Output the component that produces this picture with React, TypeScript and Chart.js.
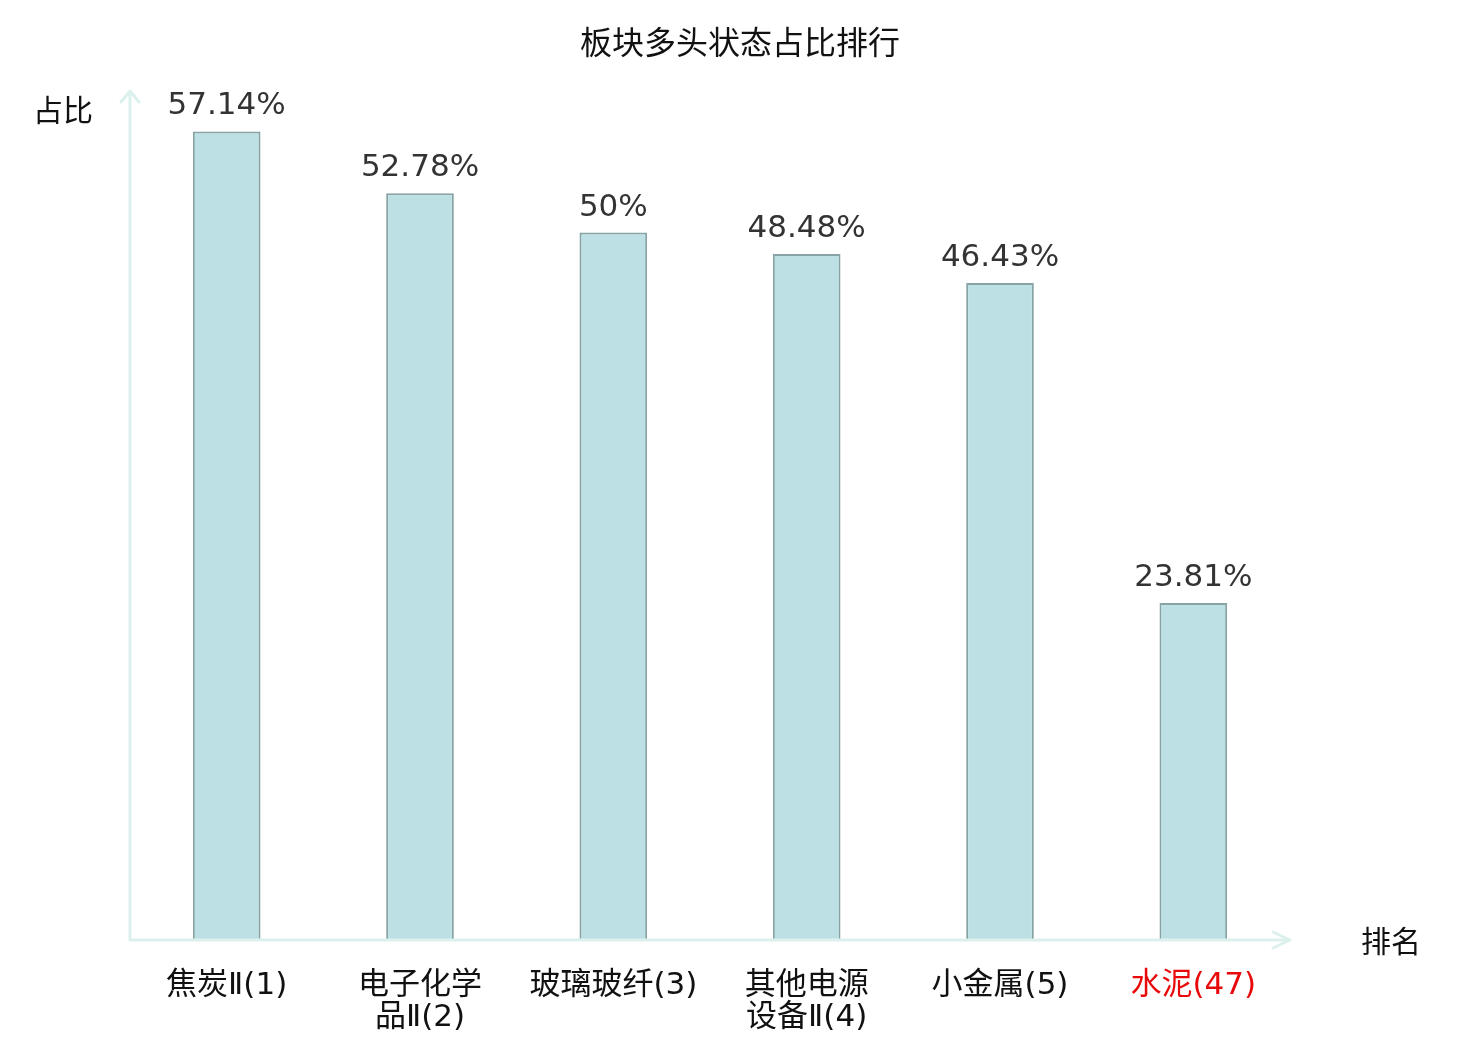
import React, { useEffect, useRef } from "react";
import { Chart, registerables } from "chart.js";

Chart.register(...registerables);

const titleText = "板块多头状态占比排行";
const categories: (string | string[])[] = [
  "焦炭Ⅱ(1)",
  ["电子化学", "品Ⅱ(2)"],
  "玻璃玻纤(3)",
  ["其他电源", "设备Ⅱ(4)"],
  "小金属(5)",
  "水泥(47)",
];
const values = [57.14, 52.78, 50, 48.48, 46.43, 23.81];
const valueLabels = ["57.14%", "52.78%", "50%", "48.48%", "46.43%", "23.81%"];
const highlightIndex = 5;
const yAxisName = "占比";
const xAxisName = "排名";
const yMax = 60;

const FONT = "'DejaVu Sans', 'Noto Sans CJK SC', sans-serif";
const CJK = "'Noto Sans CJK SC', 'DejaVu Sans', sans-serif";
const AXIS_COLOR = "#dcf1ee";

const decorPlugin = {
  id: "decor",
  afterDatasetsDraw(chart: any) {
    const { ctx, chartArea } = chart;
    const { left, right, top, bottom } = chartArea;
    ctx.save();
    // axes with arrows
    ctx.strokeStyle = AXIS_COLOR;
    ctx.lineWidth = 3;
    ctx.lineCap = "round";
    ctx.lineJoin = "round";
    ctx.beginPath();
    ctx.moveTo(left, bottom);
    ctx.lineTo(left, top);
    ctx.moveTo(left - 9, top + 11);
    ctx.lineTo(left, top);
    ctx.lineTo(left + 9, top + 11);
    ctx.moveTo(left, bottom);
    ctx.lineTo(right, bottom);
    ctx.moveTo(right - 17, bottom - 8);
    ctx.lineTo(right, bottom);
    ctx.lineTo(right - 17, bottom + 8);
    ctx.stroke();

    // value labels
    const meta = chart.getDatasetMeta(0);
    ctx.fillStyle = "#333333";
    ctx.font = `31px ${FONT}`;
    ctx.textAlign = "center";
    ctx.textBaseline = "alphabetic";
    meta.data.forEach((bar: any, i: number) => {
      ctx.fillText(valueLabels[i], bar.x, bar.y - 17);
    });

    // title & axis names
    ctx.fillStyle = "#111111";
    ctx.font = `32px ${CJK}`;
    ctx.textBaseline = "middle";
    ctx.textAlign = "center";
    ctx.fillText(titleText, 740, 42);
    ctx.font = `30px ${CJK}`;
    ctx.fillText(yAxisName, 63, 110);
    ctx.fillText(xAxisName, 1391, 941);
    ctx.restore();
  },
};

export default function App() {
  const canvasRef = useRef<HTMLCanvasElement | null>(null);

  useEffect(() => {
    if (!canvasRef.current) return;
    const chart = new Chart(canvasRef.current, {
      type: "bar",
      data: {
        labels: categories,
        datasets: [
          {
            data: values,
            backgroundColor: "#bce0e3",
            borderColor: "#87a3a5",
            borderWidth: 2,
            barPercentage: 0.35,
            categoryPercentage: 1,
          },
        ],
      },
      options: {
        responsive: false,
        animation: false,
        devicePixelRatio: 1,
        layout: { padding: { left: 130, right: 190, top: 91, bottom: 0 } },
        plugins: {
          legend: { display: false },
          title: { display: false },
          tooltip: { enabled: false },
        },
        scales: {
          x: {
            grid: { display: false, drawTicks: false },
            border: { display: false },
            afterFit: (scale: any) => {
              scale.height = 100;
            },
            ticks: {
              padding: 30,
              maxRotation: 0,
              autoSkip: false,
              font: { family: FONT, size: 31, lineHeight: 1.04 },
              color: (c: any) => (c.index === highlightIndex ? "#e8090b" : "#111111"),
            },
          },
          y: {
            display: false,
            min: 0,
            max: yMax,
          },
        },
      },
      plugins: [decorPlugin],
    });
    return () => chart.destroy();
  }, []);

  return (
    <div style={{ position: "absolute", left: 0, top: 0, width: 1480, height: 1040, background: "#fff" }}>
      <canvas ref={canvasRef} width={1480} height={1040} style={{ width: 1480, height: 1040 }} />
    </div>
  );
}
